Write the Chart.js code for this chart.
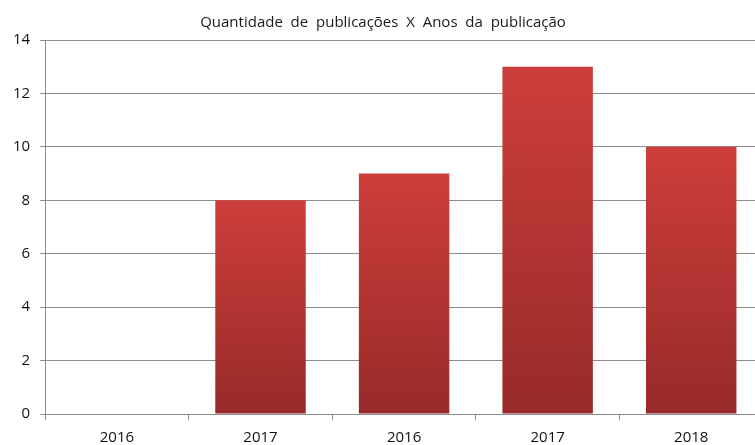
<!DOCTYPE html>
<html>
<head>
<meta charset="utf-8">
<script src="https://cdn.jsdelivr.net/npm/chart.js@4/dist/chart.umd.min.js"></script>
<style>
  html, body { margin: 0; padding: 0; background: #fff; overflow: hidden; }
  #wrap { width: 763px; height: 445px; }
</style>
</head>
<body>
<div id="wrap"><canvas id="pubs"></canvas></div>
<script>
// Data definitions
const pubYears = ['2016', '2017', '2016', '2017', '2018'];
const pubCounts = [0, 8, 9, 13, 10];
const chartTitle = 'Quantidade  de  publicações  X  Anos  da  publicação';

// per-bar vertical gradient, lighter on top
function barGradient(ctx) {
  const chart = ctx.chart;
  const y = chart.scales.y;
  if (!chart.chartArea || !y || ctx.type !== 'data') return '#c23a37';
  const top = y.getPixelForValue(ctx.raw);
  const base = y.getPixelForValue(0);
  if (!isFinite(top) || top >= base) return '#c23a37';
  const g = chart.ctx.createLinearGradient(0, top, 0, base);
  g.addColorStop(0, '#cd3e3b');
  g.addColorStop(1, '#972a29');
  return g;
}

const fontFam = '"Open Sans", "DejaVu Sans", sans-serif';

new Chart(document.getElementById('pubs').getContext('2d'), {
  type: 'bar',
  data: {
    labels: pubYears,
    datasets: [{
      label: 'publicações',
      data: pubCounts,
      backgroundColor: barGradient,
      borderWidth: 0,
      categoryPercentage: 1,
      barPercentage: 0.63
    }]
  },
  options: {
    responsive: true,
    maintainAspectRatio: false,
    animation: false,
    layout: { padding: { left: 3, right: 0, top: 14, bottom: -11 } },
    plugins: {
      legend: { display: false },
      tooltip: { enabled: false },
      title: {
        display: true,
        text: chartTitle,
        color: '#1a1a1a',
        font: { family: fontFam, size: 15, weight: 'normal' },
        padding: { top: 0, bottom: 8 }
      }
    },
    scales: {
      x: {
        offset: true,
        grid: {
          offset: true,
          drawOnChartArea: false,
          drawTicks: true,
          tickLength: 6,
          color: '#8c8c8c'
        },
        border: { color: '#8c8c8c' },
        ticks: {
          color: '#111',
          padding: 9,
          font: { family: fontFam, size: 15 }
        }
      },
      y: {
        min: 0,
        max: 14,
        ticks: {
          stepSize: 2,
          color: '#111',
          padding: 10,
          font: { family: fontFam, size: 15 }
        },
        grid: { color: '#8c8c8c', tickLength: 5 },
        border: { color: '#8c8c8c' }
      }
    }
  }
});
</script>
</body>
</html>
